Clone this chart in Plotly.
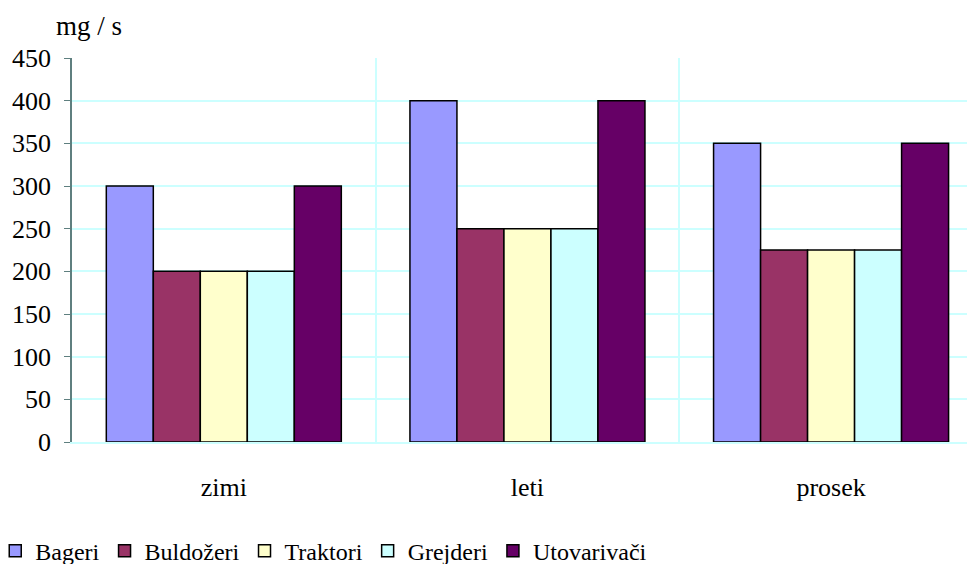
import plotly.graph_objects as go

categories = ["zimi", "leti", "prosek"]
series_names = ["Bageri", "Buldožeri", "Traktori", "Grejderi", "Utovarivači"]
bageri = [300, 400, 350]
buldozeri = [200, 250, 225]
traktori = [200, 250, 225]
grejderi = [200, 250, 225]
utovarivaci = [300, 400, 350]
y_ticks = [0, 50, 100, 150, 200, 250, 300, 350, 400, 450]

colors = ["#9999FF", "#993366", "#FFFFCC", "#CCFFFF", "#660066"]
values = [bageri, buldozeri, traktori, grejderi, utovarivaci]

font = "Liberation Serif"

fig = go.Figure()
for name, vals, col in zip(series_names, values, colors):
    fig.add_trace(go.Bar(x=categories, y=vals, name=name,
                         marker=dict(color=col, line=dict(color="black", width=1.5))))

# page has an 8px body margin, so the figure is 8px smaller on each side
fig.update_layout(
    width=967, height=556,
    margin=dict(l=64, r=0, t=50, b=122, autoexpand=False),
    plot_bgcolor="white", paper_bgcolor="white",
    barmode="group", bargap=0.226, bargroupgap=0,
    font=dict(family=font, size=26, color="black"),
    showlegend=True,
    legend=dict(orientation="h", x=-0.085, xanchor="left", y=-0.284, yanchor="middle",
                itemwidth=30, font=dict(family=font, size=24), tracegroupgap=0),
    annotations=[dict(text="mg / s", xref="paper", yref="paper", x=-0.02, y=1.04,
                      xanchor="left", yanchor="bottom", showarrow=False,
                      font=dict(family=font, size=27))],
)
fig.update_xaxes(range=[-0.5, 2.474], tickson="boundaries", showgrid=True,
                 gridcolor="#CCFFFF", gridwidth=2, ticks="", showline=True,
                 linecolor="#CCFFFF", linewidth=2, ticklabelstandoff=21,
                 tickfont=dict(family=font, size=26))
fig.update_yaxes(range=[0, 450], tickvals=y_ticks, showgrid=True, gridcolor="#CCFFFF",
                 gridwidth=2, zeroline=False, showline=True, linecolor="#5F7F7F",
                 linewidth=1.5, ticks="outside", ticklen=6, tickcolor="#5F7F7F",
                 ticklabelstandoff=8, tickfont=dict(family=font, size=26))

fig.write_html("out.html")
